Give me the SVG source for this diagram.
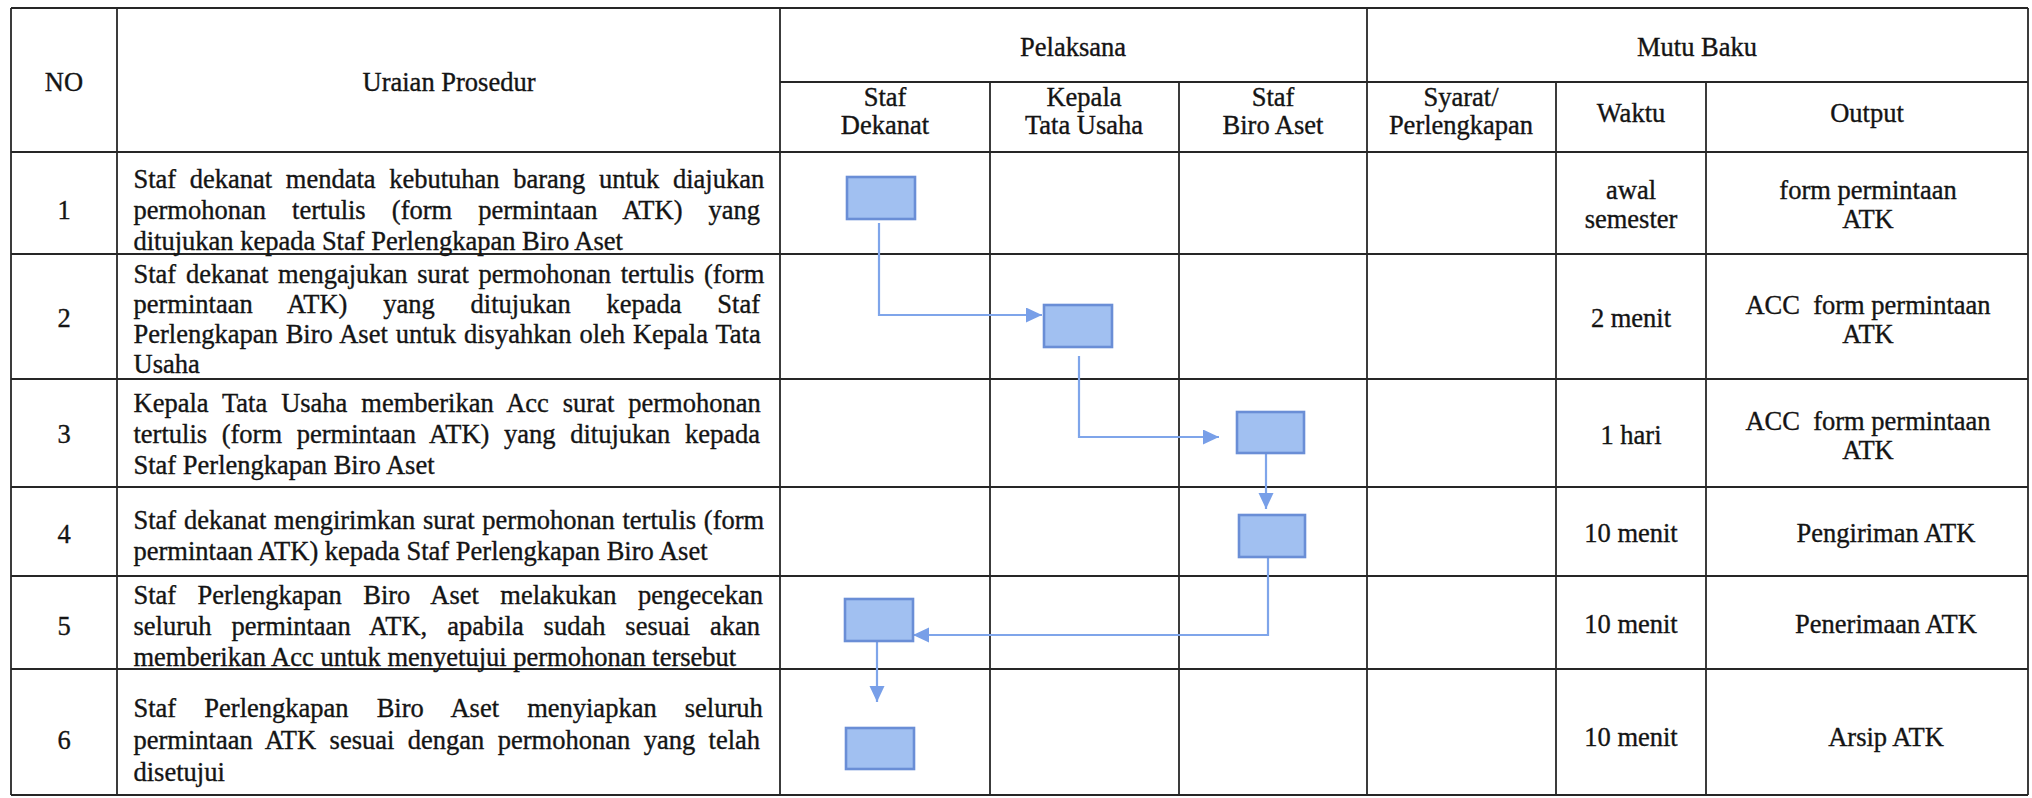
<svg xmlns="http://www.w3.org/2000/svg" width="2032" height="798" viewBox="0 0 2032 798">
<defs>
<style>
.bg{fill:#ffffff}
.grid line{stroke:#262626;stroke-width:1.8}
text{font-family:"Liberation Serif","Times New Roman",serif;font-size:26.5px;fill:#141414;stroke:#141414;stroke-width:0.35}
.c{text-anchor:middle}
.box{fill:#a1c0f1;stroke:#6a8ed6;stroke-width:2.6}
.conn{fill:none;stroke:#7fa5ea;stroke-width:2.2}
</style>
<marker id="arr" markerUnits="userSpaceOnUse" markerWidth="17" markerHeight="16" refX="16" refY="7.5" orient="auto">
<path d="M0,0 L16,7.5 L0,15 z" fill="#789fe8"/>
</marker>
</defs>
<rect class="bg" x="0" y="0" width="2032" height="798"/>

<g id="table" class="grid">
<line x1="11" y1="8" x2="11" y2="795"/>
<line x1="117" y1="8" x2="117" y2="795"/>
<line x1="780" y1="8" x2="780" y2="795"/>
<line x1="990" y1="82" x2="990" y2="795"/>
<line x1="1179" y1="82" x2="1179" y2="795"/>
<line x1="1367" y1="8" x2="1367" y2="795"/>
<line x1="1556" y1="82" x2="1556" y2="795"/>
<line x1="1706" y1="82" x2="1706" y2="795"/>
<line x1="2028" y1="8" x2="2028" y2="795"/>
<line x1="11" y1="8" x2="2028" y2="8"/>
<line x1="780" y1="82" x2="2028" y2="82"/>
<line x1="11" y1="152" x2="2028" y2="152"/>
<line x1="11" y1="254" x2="2028" y2="254"/>
<line x1="11" y1="379" x2="2028" y2="379"/>
<line x1="11" y1="487" x2="2028" y2="487"/>
<line x1="11" y1="576" x2="2028" y2="576"/>
<line x1="11" y1="669" x2="2028" y2="669"/>
<line x1="11" y1="795" x2="2028" y2="795"/>
</g>

<g id="header">
<text class="c" x="64" y="91">NO</text>
<text class="c" x="449" y="91">Uraian Prosedur</text>
<text class="c" x="1073" y="56">Pelaksana</text>
<text class="c" x="1697" y="56">Mutu Baku</text>
<text class="c" x="885" y="106">Staf</text>
<text class="c" x="885" y="134">Dekanat</text>
<text class="c" x="1084" y="106">Kepala</text>
<text class="c" x="1084" y="134">Tata Usaha</text>
<text class="c" x="1273" y="106">Staf</text>
<text class="c" x="1273" y="134">Biro Aset</text>
<text class="c" x="1461" y="106">Syarat/</text>
<text class="c" x="1461" y="134">Perlengkapan</text>
<text class="c" x="1631" y="122">Waktu</text>
<text class="c" x="1867" y="122">Output</text>
</g>

<g id="row1">
<text class="c" x="64" y="219">1</text>
<text x="133.5" y="188" word-spacing="7.0">Staf dekanat mendata kebutuhan barang untuk diajukan</text>
<text x="133.5" y="219" word-spacing="19.5">permohonan tertulis (form permintaan ATK) yang</text>
<text x="133.5" y="250">ditujukan kepada Staf Perlengkapan Biro Aset</text>
<text class="c" x="1631" y="199">awal</text>
<text class="c" x="1631" y="228">semester</text>
<text class="c" x="1868" y="199">form permintaan</text>
<text class="c" x="1868" y="228">ATK</text>
</g>

<g id="row2">
<text class="c" x="64" y="327">2</text>
<text x="133.5" y="282.5" word-spacing="3.1">Staf dekanat mengajukan surat permohonan tertulis (form</text>
<text x="133.5" y="313" word-spacing="29.2">permintaan ATK) yang ditujukan kepada Staf</text>
<text x="133.5" y="343" word-spacing="1.3">Perlengkapan Biro Aset untuk disyahkan oleh Kepala Tata</text>
<text x="133.5" y="373">Usaha</text>
<text class="c" x="1631" y="327">2 menit</text>
<text class="c" x="1868" y="314">ACC&#160; form permintaan</text>
<text class="c" x="1868" y="343">ATK</text>
</g>

<g id="row3">
<text class="c" x="64" y="443">3</text>
<text x="133.5" y="412" word-spacing="7.3">Kepala Tata Usaha memberikan Acc surat permohonan</text>
<text x="133.5" y="443" word-spacing="8">tertulis (form permintaan ATK) yang ditujukan kepada</text>
<text x="133.5" y="474">Staf Perlengkapan Biro Aset</text>
<text class="c" x="1631" y="444">1 hari</text>
<text class="c" x="1868" y="430">ACC&#160; form permintaan</text>
<text class="c" x="1868" y="459">ATK</text>
</g>

<g id="row4">
<text class="c" x="64" y="543">4</text>
<text x="133.5" y="528.5" word-spacing="1.1">Staf dekanat mengirimkan surat permohonan tertulis (form</text>
<text x="133.5" y="559.5">permintaan ATK) kepada Staf Perlengkapan Biro Aset</text>
<text class="c" x="1631" y="542">10 menit</text>
<text class="c" x="1886" y="542">Pengiriman ATK</text>
</g>

<g id="row5">
<text class="c" x="64" y="635">5</text>
<text x="133.5" y="604" word-spacing="14.8">Staf Perlengkapan Biro Aset melakukan pengecekan</text>
<text x="133.5" y="635" word-spacing="13.3">seluruh permintaan ATK, apabila sudah sesuai akan</text>
<text x="133.5" y="666">memberikan Acc untuk menyetujui permohonan tersebut</text>
<text class="c" x="1631" y="633">10 menit</text>
<text class="c" x="1886" y="633">Penerimaan ATK</text>
</g>

<g id="row6">
<text class="c" x="64" y="749">6</text>
<text x="133.5" y="717" word-spacing="21.5">Staf Perlengkapan Biro Aset menyiapkan seluruh</text>
<text x="133.5" y="749" word-spacing="6.8">permintaan ATK sesuai dengan permohonan yang telah</text>
<text x="133.5" y="781">disetujui</text>
<text class="c" x="1631" y="746">10 menit</text>
<text class="c" x="1886" y="746">Arsip ATK</text>
</g>

<g id="connectors">
<path class="conn" d="M879,223 V315 H1042" marker-end="url(#arr)"/>
<path class="conn" d="M1079,356 V437 H1219" marker-end="url(#arr)"/>
<path class="conn" d="M1266,453 V509" marker-end="url(#arr)"/>
<path class="conn" d="M1268,557 V635 H913" marker-end="url(#arr)"/>
<path class="conn" d="M877,641 V702" marker-end="url(#arr)"/>
</g>

<g id="node1"><rect class="box" x="847" y="177" width="68" height="42"/></g>
<g id="node2"><rect class="box" x="1044" y="305" width="68" height="42"/></g>
<g id="node3"><rect class="box" x="1237" y="412" width="67" height="41"/></g>
<g id="node4"><rect class="box" x="1239" y="515" width="66" height="42"/></g>
<g id="node5"><rect class="box" x="845" y="599" width="68" height="42"/></g>
<g id="node6"><rect class="box" x="846" y="728" width="68" height="41"/></g>
</svg>
